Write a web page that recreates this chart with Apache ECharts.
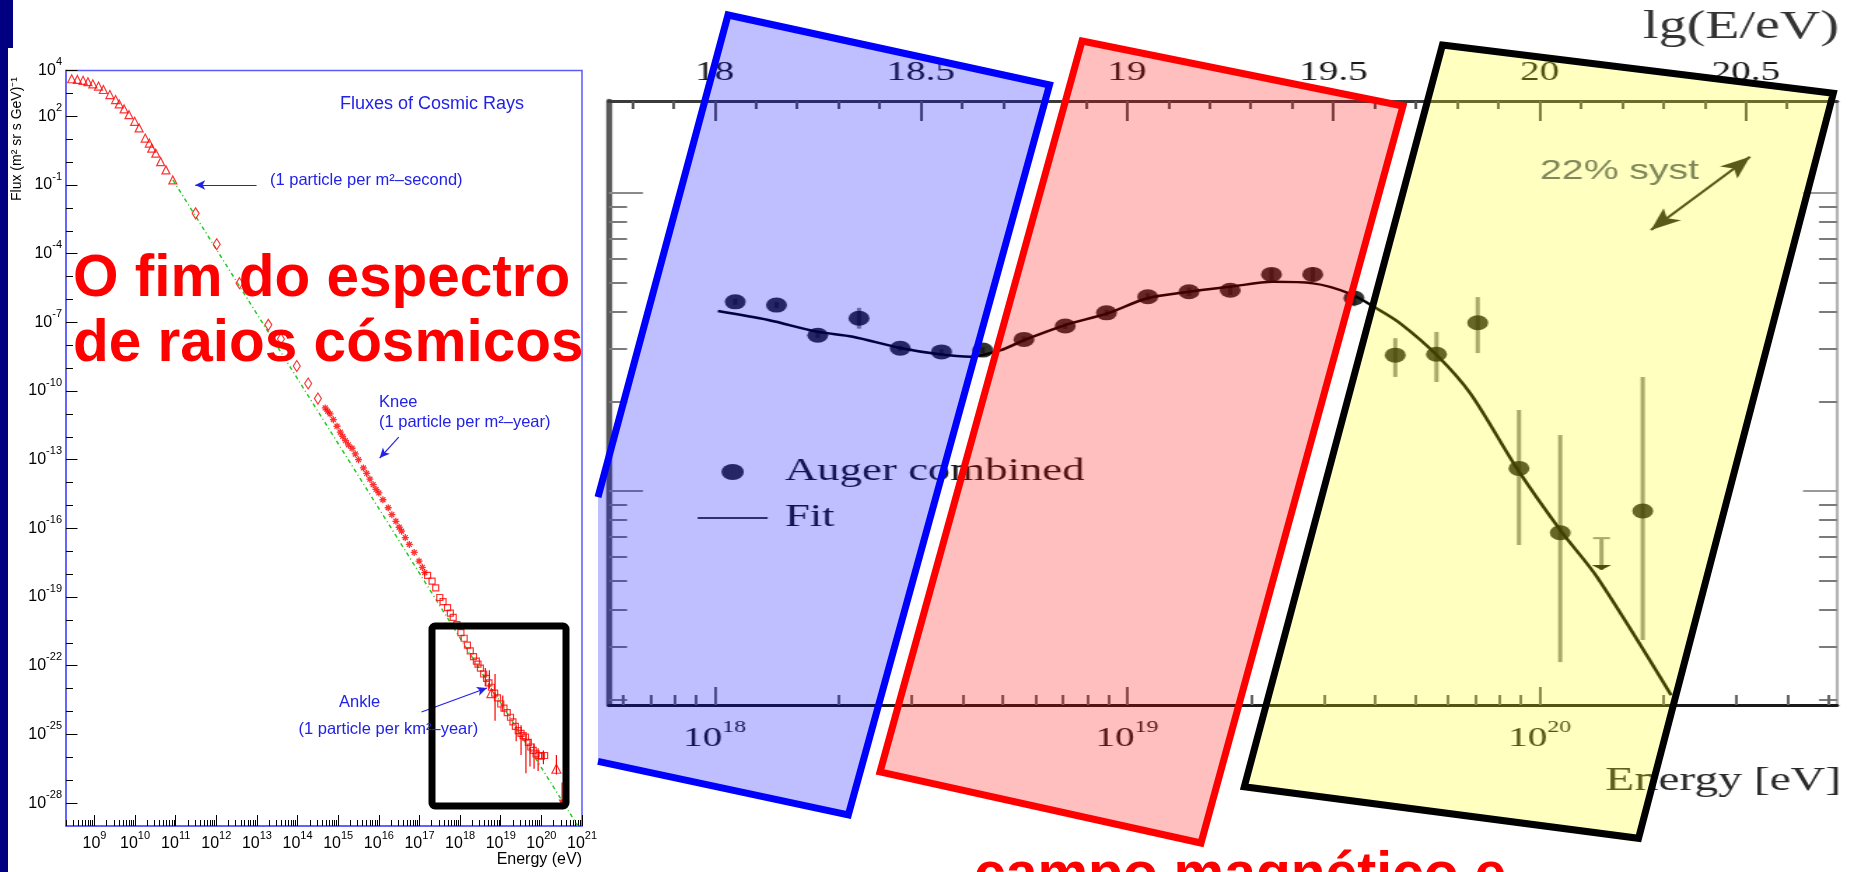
<!DOCTYPE html>
<html>
<head>
<meta charset="utf-8">
<title>O fim do espectro de raios cósmicos</title>
<script src="https://cdn.jsdelivr.net/npm/echarts@6.0.0/dist/echarts.min.js"></script>
<style>
  html, body { margin:0; padding:0; width:1854px; height:872px; overflow:hidden; background:#fff; }
  /* the Auger panel is a horizontally stretched figure */
  #auger { position:absolute; left:598px; top:0; width:897px; height:872px; transform:scaleX(1.400223); transform-origin:0 0; }
  #slide { position:absolute; left:0; top:0; width:1854px; height:872px; z-index:2; }
</style>
</head>
<body>
<div id="auger"></div>
<div id="slide"></div>
<script>
// ================= Left panel: fluxes of cosmic rays (log10 E/eV, log10 flux) =================
const triE  = [8.44, 8.58, 8.72, 8.84, 8.96, 9.10, 9.22, 9.38, 9.52, 9.61, 9.73, 9.85, 9.99, 10.10, 10.25, 10.35, 10.41, 10.51, 10.63, 10.76, 10.93];
const triF  = [3.64, 3.61, 3.57, 3.51, 3.42, 3.32, 3.17, 2.95, 2.73, 2.54, 2.32, 2.07, 1.78, 1.49, 1.05, 0.83, 0.61, 0.39, 0.02, -0.34, -0.78];
const diaE  = [11.49, 12.01, 12.57, 13.28, 13.59, 13.98, 14.26, 14.50];
const diaF  = [-2.24, -3.59, -5.29, -7.11, -7.73, -8.91, -9.67, -10.33];
const starE = [14.68, 14.74, 14.80, 14.88, 14.97, 15.05, 15.11, 15.18, 15.25, 15.34, 15.42, 15.50, 15.62, 15.70, 15.78, 15.86, 15.93, 16.00, 16.10, 16.23, 16.32, 16.42, 16.50, 16.56, 16.65, 16.75, 16.87, 16.99, 17.07, 17.13];
const starF = [-10.74, -10.88, -11.00, -11.25, -11.54, -11.80, -11.98, -12.17, -12.35, -12.50, -12.75, -13.00, -13.36, -13.60, -13.85, -14.09, -14.30, -14.45, -14.75, -15.10, -15.40, -15.69, -15.95, -16.12, -16.40, -16.70, -17.05, -17.43, -17.70, -17.93];
const sqE   = [17.20, 17.31, 17.40, 17.50, 17.58, 17.69, 17.76, 17.83, 17.92, 18.02, 18.10, 18.18, 18.25, 18.33, 18.40, 18.44, 18.50, 18.58, 18.65, 18.71, 18.77, 18.85, 18.92, 19.00, 19.08, 19.16, 19.24, 19.30, 19.36, 19.43, 19.50, 19.55, 19.61, 19.68, 19.74, 19.80, 19.87, 19.94, 20.00, 20.08];
const sqF   = [-18.05, -18.30, -18.60, -19.02, -19.20, -19.46, -19.70, -19.89, -20.20, -20.55, -20.80, -21.10, -21.35, -21.60, -21.80, -21.93, -22.10, -22.36, -22.55, -22.75, -22.94, -23.20, -23.40, -23.67, -23.85, -24.05, -24.25, -24.45, -24.65, -24.83, -24.95, -25.05, -25.12, -25.35, -25.55, -25.70, -25.85, -25.92, -25.95, -25.92];
const hiTriE = [18.77, 20.37];
const hiTriF = [-23.20, -26.50];
const lastE  = [20.51];
const lastF  = [-28.00];
const errE  = [18.62, 18.72, 18.86, 19.05, 19.38, 19.50, 19.62, 19.72, 19.82, 19.92, 20.05, 20.37, 20.51];
const errLo = [-22.90, -23.00, -24.40, -24.00, -25.30, -25.90, -26.70, -26.40, -26.50, -26.60, -26.30, -26.75, -28.10];
const errHi = [-22.10, -22.20, -22.36, -23.30, -24.60, -24.60, -25.00, -25.20, -25.40, -25.60, -25.70, -25.90, -27.10];
const refLineE = [10.93, 20.90];   // E^-2.8 guide
const refLineF = [-0.78, -29.00];
const fluxXLabels = [9, 10, 11, 12, 13, 14, 15, 16, 17, 18, 19, 20, 21];
const fluxYLabels = [4, 2, -1, -4, -7, -10, -13, -16, -19, -22, -25, -28];

// ================= Right panel: Auger combined spectrum (lg E/eV, lg E^3 J) =================
const augerE  = [18.05, 18.15, 18.25, 18.35, 18.45, 18.55, 18.65, 18.75, 18.85, 18.95, 19.05, 19.15, 19.25, 19.35, 19.45, 19.55, 19.65, 19.75, 19.85, 19.95, 20.05, 20.25];
const augerY  = [37.635, 37.624, 37.523, 37.580, 37.479, 37.467, 37.473, 37.509, 37.554, 37.598, 37.652, 37.669, 37.674, 37.727, 37.727, 37.648, 37.456, 37.459, 37.565, 37.076, 36.860, 36.933];
const augerLo = [37.625, 37.614, 37.513, 37.545, 37.470, 37.458, 37.463, 37.499, 37.544, 37.587, 37.640, 37.655, 37.658, 37.707, 37.703, 37.620, 37.383, 37.366, 37.463, 36.819, 36.426, 36.500];
const augerHi = [37.645, 37.634, 37.533, 37.615, 37.488, 37.476, 37.483, 37.519, 37.564, 37.609, 37.664, 37.683, 37.690, 37.747, 37.751, 37.676, 37.513, 37.534, 37.651, 37.272, 37.188, 37.383];
const limitE  = [20.15];
const limitY  = [36.842];
const fitE = [18.008, 18.13, 18.248, 18.335, 18.447, 18.545, 18.62, 18.692, 18.753, 18.85, 18.952, 19.049, 19.15, 19.252, 19.353, 19.451, 19.539, 19.605, 19.662, 19.751, 19.832, 19.945, 20.05, 20.139, 20.319];
const fitY = [37.604, 37.574, 37.535, 37.518, 37.481, 37.459, 37.451, 37.472, 37.508, 37.557, 37.596, 37.647, 37.669, 37.686, 37.702, 37.697, 37.663, 37.613, 37.563, 37.456, 37.328, 37.076, 36.869, 36.712, 36.315];
const lgTopLabels = [18, 18.5, 19, 19.5, 20, 20.5];
const energyDecades = [18, 19, 20];
const systArrow = [[20.27, 37.876], [20.51, 38.122]];

const zip = (a, b) => a.map((v, i) => [v, b[i]]);
const SANS = '"Liberation Sans", Arial, Helvetica, sans-serif';
const SERIF = '"Liberation Serif", "Times New Roman", serif';

// log-spaced minor tick positions (2..9 x 10^n) inside an exponent range
function logMinor(nFrom, nTo, lo, hi) {
  const out = [];
  for (let n = nFrom; n <= nTo; n++)
    for (let m = 2; m <= 9; m++) {
      const v = n + Math.log10(m);
      if (v > lo && v < hi) out.push(v);
    }
  return out;
}
function range(a, b, step) { const out = []; for (let v = a; v <= b + 1e-9; v += step) out.push(+v.toFixed(4)); return out; }

// ======================= Auger panel (stretched) =======================
const K = 1256 / 897;
const PANEL_X = 598;
const lx = x => (x - PANEL_X) / K;
const lw = w => w / K;

const E_MIN = 17.744, E_MAX = 20.721, Y_MIN = 36.282, Y_MAX = 38.309;
const hidden = { axisLine: { show: false, onZero: false }, axisTick: { show: false }, axisLabel: { show: false }, splitLine: { show: false } };
const line = (color, width) => ({ show: true, onZero: false, lineStyle: { color: color, width: width } });

function eAxis(pos, extra) {
  return Object.assign({ type: 'value', position: pos, min: E_MIN, max: E_MAX }, hidden, extra);
}
function yAxisR(pos, extra) {
  return Object.assign({ type: 'value', position: pos, min: Y_MIN, max: Y_MAX }, hidden, extra);
}
const supRich = (base, sup, color, family, baseLH, supLH) => ({
  b: { fontSize: base, lineHeight: baseLH, verticalAlign: 'middle', fontFamily: family, color: color },
  s: { fontSize: sup, lineHeight: supLH, verticalAlign: 'top', fontFamily: family, color: color }
});
// thin horizontal bar used as the legend key of the fit curve
const FIT_KEY = 'path://M0,0L0.01,0M0,14.6L100,14.6L100,17.4L0,17.4ZM0,32L0.01,32';

const auger = echarts.init(document.getElementById('auger'));
auger.setOption({
  animation: false,
  backgroundColor: '#ffffff',
  grid: { left: lx(609), top: 101, width: lw(1837 - 609), height: 604 },
  legend: {
    data: [{ name: 'Auger combined', icon: 'circle' }, { name: 'Fit', icon: FIT_KEY }],
    orient: 'vertical', left: lx(697.6), top: 456, padding: 0,
    itemWidth: lw(70.8), itemHeight: 16, itemGap: 14,
    textStyle: { fontFamily: SERIF, fontSize: 32, lineHeight: 31, color: '#1a1a1a', padding: [0, 0, 0, 7] }
  },
  xAxis: [
    eAxis('top', {
      axisLine: line('#3a3a3a', 3),
      axisTick: { show: true, inside: true, length: 20, customValues: lgTopLabels, lineStyle: { color: '#555', width: 2 } },
      axisLabel: { show: true, customValues: lgTopLabels, margin: 14, color: '#1a1a1a', fontFamily: SERIF, fontSize: 28, formatter: v => String(v) }
    }),
    eAxis('top', {
      axisTick: { show: true, inside: true, length: 8, customValues: range(17.8, 20.7, 0.1), lineStyle: { color: '#555', width: 2 } }
    }),
    eAxis('bottom', {
      axisLine: line('#1a1a1a', 3),
      axisTick: { show: true, inside: true, length: 18, customValues: energyDecades, lineStyle: { color: '#666', width: 2 } },
      axisLabel: { show: true, customValues: energyDecades, margin: 14, formatter: v => '{b|10}{s|' + v + '}', rich: supRich(28, 17, '#1a1a1a', SERIF, 40, 17) }
    }),
    eAxis('bottom', {
      axisTick: { show: true, inside: true, length: 10, customValues: logMinor(17, 20, E_MIN, E_MAX), lineStyle: { color: '#666', width: 2 } }
    })
  ],
  yAxis: [
    yAxisR('left', {
      axisLine: line('#5a5a5a', lw(6)),
      axisTick: { show: true, inside: true, length: lw(34), customValues: [37, 38], lineStyle: { color: '#8a8a8a', width: 2 } }
    }),
    yAxisR('left', {
      axisTick: { show: true, inside: true, length: lw(18), customValues: logMinor(36, 37, Y_MIN, 38.2), lineStyle: { color: '#7a7a7a', width: 2 } }
    }),
    yAxisR('right', {
      axisLine: line('#b4b4b4', lw(3)),
      axisTick: { show: true, inside: true, length: lw(34), customValues: [37, 38], lineStyle: { color: '#999', width: 2 } }
    }),
    yAxisR('right', {
      axisTick: { show: true, inside: true, length: lw(18), customValues: logMinor(36, 37, Y_MIN, 38.2), lineStyle: { color: '#7a7a7a', width: 2 } }
    })
  ],
  series: [
    {
      type: 'custom', name: 'errors', z: 2,
      data: augerE.map((e, i) => [e, augerLo[i], augerHi[i]]),
      encode: { x: 0, y: [1, 2] },
      renderItem: (params, api) => {
        const a = api.coord([api.value(0), api.value(1)]);
        const b = api.coord([api.value(0), api.value(2)]);
        return { type: 'line', shape: { x1: a[0], y1: a[1], x2: b[0], y2: b[1] }, style: { stroke: '#8c8c8c', lineWidth: 3 } };
      },
      markLine: {
        silent: true, symbol: ['arrow', 'arrow'], symbolSize: [13, 22],
        lineStyle: { color: '#222', width: 2, type: 'solid' }, label: { show: false },
        data: [[{ coord: systArrow[0] }, { coord: systArrow[1] }]]
      }
    },
    {
      type: 'custom', name: 'upper limit', z: 3,
      data: zip(limitE, limitY),
      encode: { x: 0, y: 1 },
      renderItem: (params, api) => {
        const top = api.coord([api.value(0), api.value(1)]);
        const bot = api.coord([api.value(0), api.value(1) - 0.107]);
        return {
          type: 'group', children: [
            { type: 'line', shape: { x1: top[0] - 6, y1: top[1], x2: top[0] + 6, y2: top[1] }, style: { stroke: '#8c8c8c', lineWidth: 2 } },
            { type: 'line', shape: { x1: top[0], y1: top[1], x2: bot[0], y2: bot[1] }, style: { stroke: '#8c8c8c', lineWidth: 3 } },
            { type: 'polygon', shape: { points: [[bot[0] - 7, bot[1] - 5], [bot[0] + 7, bot[1] - 5], [bot[0], bot[1]]] }, style: { fill: '#111' } }
          ]
        };
      }
    },
    {
      type: 'line', name: 'Fit', z: 4, data: zip(fitE, fitY), smooth: 0.3,
      showSymbol: false, symbol: 'none', lineStyle: { color: '#000', width: 2.5 }, itemStyle: { color: '#000' }
    },
    {
      type: 'scatter', name: 'Auger combined', z: 5, data: zip(augerE, augerY),
      symbol: 'circle', symbolSize: 15, itemStyle: { color: '#000' }
    }
  ],
  graphic: [
    { type: 'text', x: lx(1839), y: 27, silent: true,
      style: { text: 'lg(E/eV)', font: '40px ' + SERIF, fill: '#333', align: 'right', verticalAlign: 'middle', textAlign: 'right', textVerticalAlign: 'middle' } },
    { type: 'text', x: lx(1841), y: 781, silent: true,
      style: { text: 'Energy [eV]', font: '34px ' + SERIF, fill: '#2a2a2a', align: 'right', verticalAlign: 'middle', textAlign: 'right', textVerticalAlign: 'middle' } },
    { type: 'text', x: lx(1540), y: 171, silent: true,
      style: { text: '22% syst', font: '28px ' + SANS, fill: '#56607a', align: 'left', verticalAlign: 'middle', textAlign: 'left', textVerticalAlign: 'middle' } }
  ]
});

// ======================= slide layer: left panel + overlays =======================
const openMarker = { color: 'rgba(0,0,0,0)', borderColor: '#ff0000', borderWidth: 1.2 };
const ASTERISK = 'path://M5,0L5,10M0,5L10,5M1.5,1.5L8.5,8.5M1.5,8.5L8.5,1.5';
const FRAME = '#5a5aff';
const ANNOT = '#2222e6';

function fluxX(pos, extra) {
  return Object.assign({ type: 'value', position: pos, min: 8.3, max: 21 }, hidden, extra);
}
function fluxY(pos, extra) {
  return Object.assign({ type: 'value', position: pos, min: -29, max: 4 }, hidden, extra);
}

// shapes over the Auger panel (page pixels)
const blueFill   = [[728, 15], [1049.5, 85], [848.3, 815], [598, 761.3], [598, 497.2]];
const blueEdge   = [[598, 497.2], [728, 15], [1049.5, 85], [848.3, 815], [598, 761.3]];
const redShape   = [[1082, 41], [1403, 106], [1201, 843], [880, 772]];
const blackShape = [[1442.4, 45], [1833.3, 93.3], [1638.5, 838.3], [1244.3, 786.7]];

function txt(text, x, y, font, fill, align, extra) {
  return Object.assign({
    type: 'text', x: x, y: y, silent: true, z: 80,
    style: { text: text, font: font, fill: fill, align: align || 'left', verticalAlign: 'middle', textAlign: align || 'left', textVerticalAlign: 'middle' }
  }, extra || {});
}

const slide = echarts.init(document.getElementById('slide'));
slide.setOption({
  animation: false,
  backgroundColor: 'transparent',
  grid: { left: 66, top: 70.5, width: 516, height: 755.5, show: true, borderColor: FRAME, borderWidth: 1.5, backgroundColor: 'transparent' },
  xAxis: [
    fluxX('bottom', {
      axisLine: line(FRAME, 1.5),
      axisTick: { show: true, inside: true, length: 11, customValues: fluxXLabels, lineStyle: { color: '#000', width: 1 } },
      axisLabel: { show: true, customValues: fluxXLabels, margin: 4, formatter: v => '{b|10}{s|' + v + '}', rich: supRich(16, 11, '#000', SANS, 28, 11) }
    }),
    fluxX('bottom', {
      axisTick: { show: true, inside: true, length: 6, customValues: logMinor(8, 20, 8.3, 21), lineStyle: { color: '#000', width: 1 } }
    })
  ],
  yAxis: [
    fluxY('left', {
      axisLine: line(FRAME, 1.5),
      axisTick: { show: true, inside: true, length: 7, customValues: range(-28, 3, 1), lineStyle: { color: '#000', width: 1 } },
      axisLabel: { show: true, customValues: fluxYLabels, margin: 4, formatter: v => '{b|10}{s|' + v + '}', rich: supRich(16, 11, '#000', SANS, 28, 11) }
    }),
    fluxY('left', {
      axisTick: { show: true, inside: true, length: 11.5, customValues: fluxYLabels, lineStyle: { color: '#000', width: 1 } }
    })
  ],
  series: [
    {
      type: 'line', name: 'guide', data: zip(refLineE, refLineF), showSymbol: false, symbol: 'none', z: 1,
      lineStyle: { color: '#22cc22', width: 1.5, type: [4, 3, 1, 3] },
      markLine: {
        silent: true, symbol: ['none', 'arrow'], symbolSize: [7, 10], label: { show: false },
        lineStyle: { color: ANNOT, width: 1.2, type: 'solid' },
        data: [
          [{ coord: [12.99, -1.0] }, { coord: [11.48, -1.0] }],
          [{ coord: [16.49, -12.01] }, { coord: [16.02, -12.93] }],
          [{ coord: [17.05, -24.02] }, { coord: [18.66, -22.97] }]
        ]
      }
    },
    {
      type: 'custom', name: 'flux errors', z: 2,
      data: errE.map((e, i) => [e, errLo[i], errHi[i]]),
      encode: { x: 0, y: [1, 2] },
      renderItem: (params, api) => {
        const a = api.coord([api.value(0), api.value(1)]);
        const b = api.coord([api.value(0), api.value(2)]);
        return { type: 'line', shape: { x1: a[0], y1: a[1], x2: b[0], y2: b[1] }, style: { stroke: '#ff0000', lineWidth: 1.2 } };
      }
    },
    { type: 'scatter', name: 'low energy', z: 3, data: zip(triE, triF), symbol: 'triangle', symbolSize: 8, itemStyle: openMarker },
    { type: 'scatter', name: 'direct', z: 3, data: zip(diaE, diaF), symbol: 'diamond', symbolSize: [7, 11], itemStyle: openMarker },
    { type: 'scatter', name: 'air shower', z: 3, data: zip(starE, starF), symbol: ASTERISK, symbolSize: 7, itemStyle: { color: 'rgba(0,0,0,0)', borderColor: '#ff0000', borderWidth: 1.3 } },
    { type: 'scatter', name: 'giant arrays', z: 3, data: zip(sqE, sqF), symbol: 'rect', symbolSize: 6, itemStyle: openMarker },
    { type: 'scatter', name: 'highest', z: 3, data: zip(hiTriE, hiTriF), symbol: 'triangle', symbolSize: 9, itemStyle: openMarker },
    { type: 'scatter', name: 'last', z: 3, data: zip(lastE, lastF), symbol: 'triangle', symbolRotate: 180, symbolSize: 7, itemStyle: { color: '#ff0000' } }
  ],
  graphic: [
    // slide template strip
    { type: 'rect', shape: { x: 0, y: 0, width: 13, height: 48 }, style: { fill: '#000080' }, silent: true, z: 70 },
    { type: 'rect', shape: { x: 0, y: 0, width: 8, height: 872 }, style: { fill: '#000080' }, silent: true, z: 70 },

    // left panel annotations
    txt('Fluxes of Cosmic Rays', 340, 104, '18px ' + SANS, ANNOT),
    txt('(1 particle per m²–second)', 270, 180, '16.5px ' + SANS, ANNOT),
    txt('Knee', 379, 402, '16.5px ' + SANS, ANNOT),
    txt('(1 particle per m²–year)', 379, 422, '16.5px ' + SANS, ANNOT),
    txt('Ankle', 339, 702, '16.5px ' + SANS, ANNOT),
    txt('(1 particle per km²–year)', 298.5, 729, '16.5px ' + SANS, ANNOT),
    txt('Flux (m² sr s GeV)⁻¹', 17, 139, '14px ' + SANS, '#000', 'center', { rotation: Math.PI / 2 }),
    txt('Energy (eV)', 582, 860, '16px ' + SANS, '#000', 'right'),
    { type: 'rect', shape: { x: 432, y: 626, width: 134, height: 180, r: 3 }, style: { fill: null, stroke: '#000', lineWidth: 7 }, silent: true, z: 75 },

    // translucent bands over the Auger spectrum
    { type: 'polygon', shape: { points: blueFill }, style: { fill: 'rgba(0,0,255,0.25)' }, silent: true, z: 60 },
    { type: 'polyline', shape: { points: blueEdge }, style: { fill: null, stroke: '#0000ff', lineWidth: 7, lineJoin: 'miter' }, silent: true, z: 61 },
    { type: 'polygon', shape: { points: redShape }, style: { fill: 'rgba(255,0,0,0.25)', stroke: '#ff0000', lineWidth: 7, lineJoin: 'miter' }, silent: true, z: 62 },
    { type: 'polygon', shape: { points: blackShape }, style: { fill: 'rgba(255,255,0,0.25)', stroke: '#000000', lineWidth: 7, lineJoin: 'miter' }, silent: true, z: 63 },

    // slide headline
    txt('O fim do espectro', 73, 280, 'bold 58.5px ' + SANS, '#ff0000', 'left', { z: 90 }),
    txt('de raios cósmicos', 73, 345, 'bold 58.5px ' + SANS, '#ff0000', 'left', { z: 90 }),
    txt('campo magnético e', 974, 876, 'bold 57px ' + SANS, '#ff0000', 'left', { z: 90 })
  ]
});
</script>
</body>
</html>
